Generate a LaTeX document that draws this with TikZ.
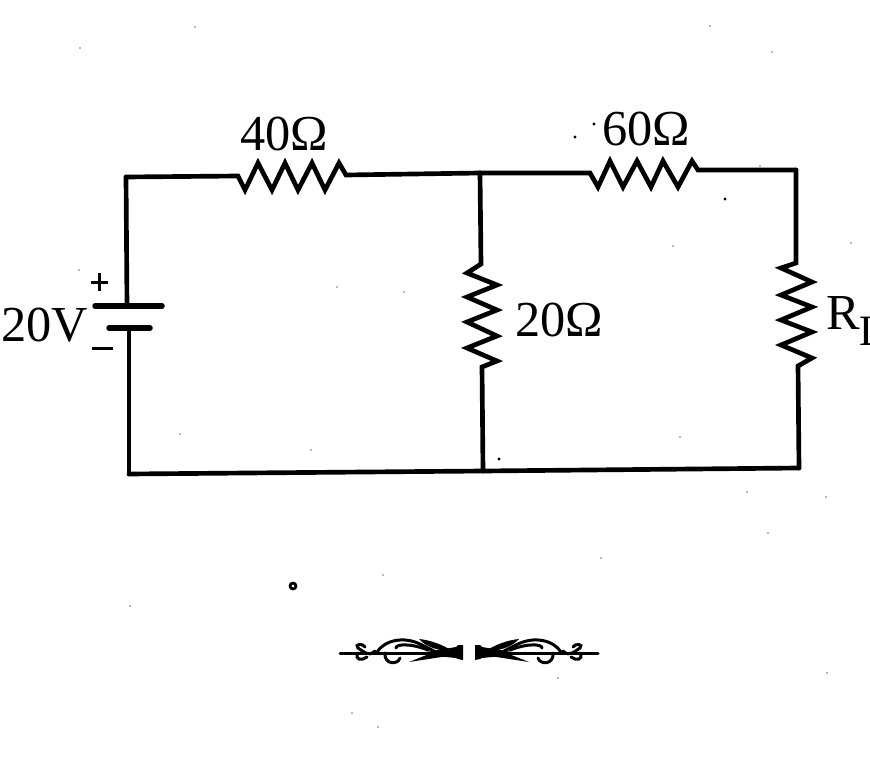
\documentclass[tikz,border=0pt]{standalone}
\usepackage{fontspec}
\setmainfont{Liberation Serif}
\usetikzlibrary{arrows.meta, positioning, calc}

\begin{document}
\begin{tikzpicture}[x=0.03cm, y=-0.03cm,
        wire/.style={line width=0.14cm, line cap=round, line join=miter},
        plate/.style={line width=0.165cm, line cap=round},
        value/.style={inner sep=0pt, font=\fontsize{43}{43}\selectfont},
        polarity/.style={line width=0.09cm},
        flourish/.style={line width=0.09cm, line cap=round}
    ]
        \useasboundingbox (0,0) rectangle (870,764);
        \clip (0,0) rectangle (870,764);

        % corners and junctions
        \coordinate (tl) at (126,177);
        \coordinate (tm) at (480,173);
        \coordinate (tr) at (796,170);
        \coordinate (bl) at (129,474);
        \coordinate (bm) at (483,471);
        \coordinate (br) at (799,468);

        % battery
        \coordinate (platea) at (127,306);
        \coordinate (plateb) at (129,328);
        \draw[plate] (95,306) -- (162,306);
        \draw[plate] (109,328) -- (150,328);
        \draw[wire] (platea) -- (tl);
        \draw[wire] (plateb) -- (bl);
        \draw[polarity] (91,282) -- (108,282) (99,273) -- (99,291);
        \draw[polarity] (92,348) -- (113,348);

        % 40 ohm
        \coordinate (ra1) at (238,176);
        \coordinate (ra2) at (346,175);
        \draw[wire] (tl) -- (ra1) -- (245,190) -- (258,163) -- (272,190) -- (285,163) -- (298,190) -- (312,163) -- (325,190) -- (339,163) -- (ra2) -- (tm);

        % 60 ohm
        \coordinate (rb1) at (590,173);
        \coordinate (rb2) at (698,170);
        \draw[wire] (tm) -- (rb1) -- (598,187) -- (610,161) -- (623,187) -- (637,161) -- (651,187) -- (663,161) -- (678,187) -- (692,161) -- (rb2) -- (tr);

        % 20 ohm
        \coordinate (rc1) at (481,264);
        \coordinate (rc2) at (482,367);
        \draw[wire] (tm) -- (rc1) -- (467,273) -- (497,285) -- (467,297) -- (497,310) -- (467,322) -- (497,336) -- (467,348) -- (497,361) -- (rc2) -- (bm);

        % load
        \coordinate (rd1) at (796,263);
        \coordinate (rd2) at (798,366);
        \draw[wire] (tr) -- (rd1) -- (781,268) -- (812,282) -- (781,295) -- (812,307) -- (781,320) -- (812,332) -- (781,345) -- (812,358) -- (rd2) -- (br);

        \draw[wire] (bl) -- (bm) -- (br);

        % labels
        \node[value] (la) at (284,134) {40Ω};
        \node[value] (lb) at (646,129) {60Ω};
        \node[value] (lc) at (559,320) {20Ω};
        \node[value] (ld) at (45,325) {20V};
        \node[value, anchor=west] (le) at (826,321) {R\raisebox{-14pt}{\fontsize{37}{37}\selectfont L}};

        % ornament
        \foreach \s/\o in {1/0, -1/938} {
            \begin{scope}[shift={(\o,0)}, xscale=\s]
                \draw[flourish] (340,653) -- (440,653);
                \fill (426,652) -- (456,647) -- (458,645) -- (463,645) -- (463,660) -- (458,659) -- (456,658) -- (426,655) -- cycle;
                \fill (409,662) -- (434,652) -- (448,656) -- cycle;
                \fill (419,639) .. controls (430,640) and (444,645) .. (452,651) .. controls (438,651) and (426,647) .. cycle;
                \draw[flourish] (377,652) .. controls (384,641) and (403,635) .. (422,645) .. controls (428,648) and (432,650) .. (436,652);
                \draw[flourish] (396,648) .. controls (396,644) and (410,643) .. (428,650);
                \draw[flourish] (385,653) .. controls (384,665) and (398,665) .. (400,658);
                \draw[flourish] (375,651) .. controls (368,658) and (362,650) .. (358,648) .. controls (354,644) and (363,643) .. (365,647);
                \draw[flourish] (358,653) .. controls (354,660) and (362,661) .. (367,657);
            \end{scope}
        }

        % specks
        \draw[line width=0.08cm, fill=white] (293,586) circle (3);
        \foreach \px/\py in {575/137, 594/124, 725/199, 499/459} {
            \fill (\px,\py) circle (1.6);
        }
        \foreach \px/\py in {80/48, 195/27, 311/450, 404/292, 337/287, 180/434, 673/246, 760/166, 851/243, 601/558, 383/575, 130/606, 558/678, 378/727, 352/713, 768/533, 827/673, 747/492, 826/497, 680/437, 79/270, 710/26, 772/52} {
            \fill[black!55] (\px,\py) circle (0.9);
        }
    \end{tikzpicture}
\end{document}
